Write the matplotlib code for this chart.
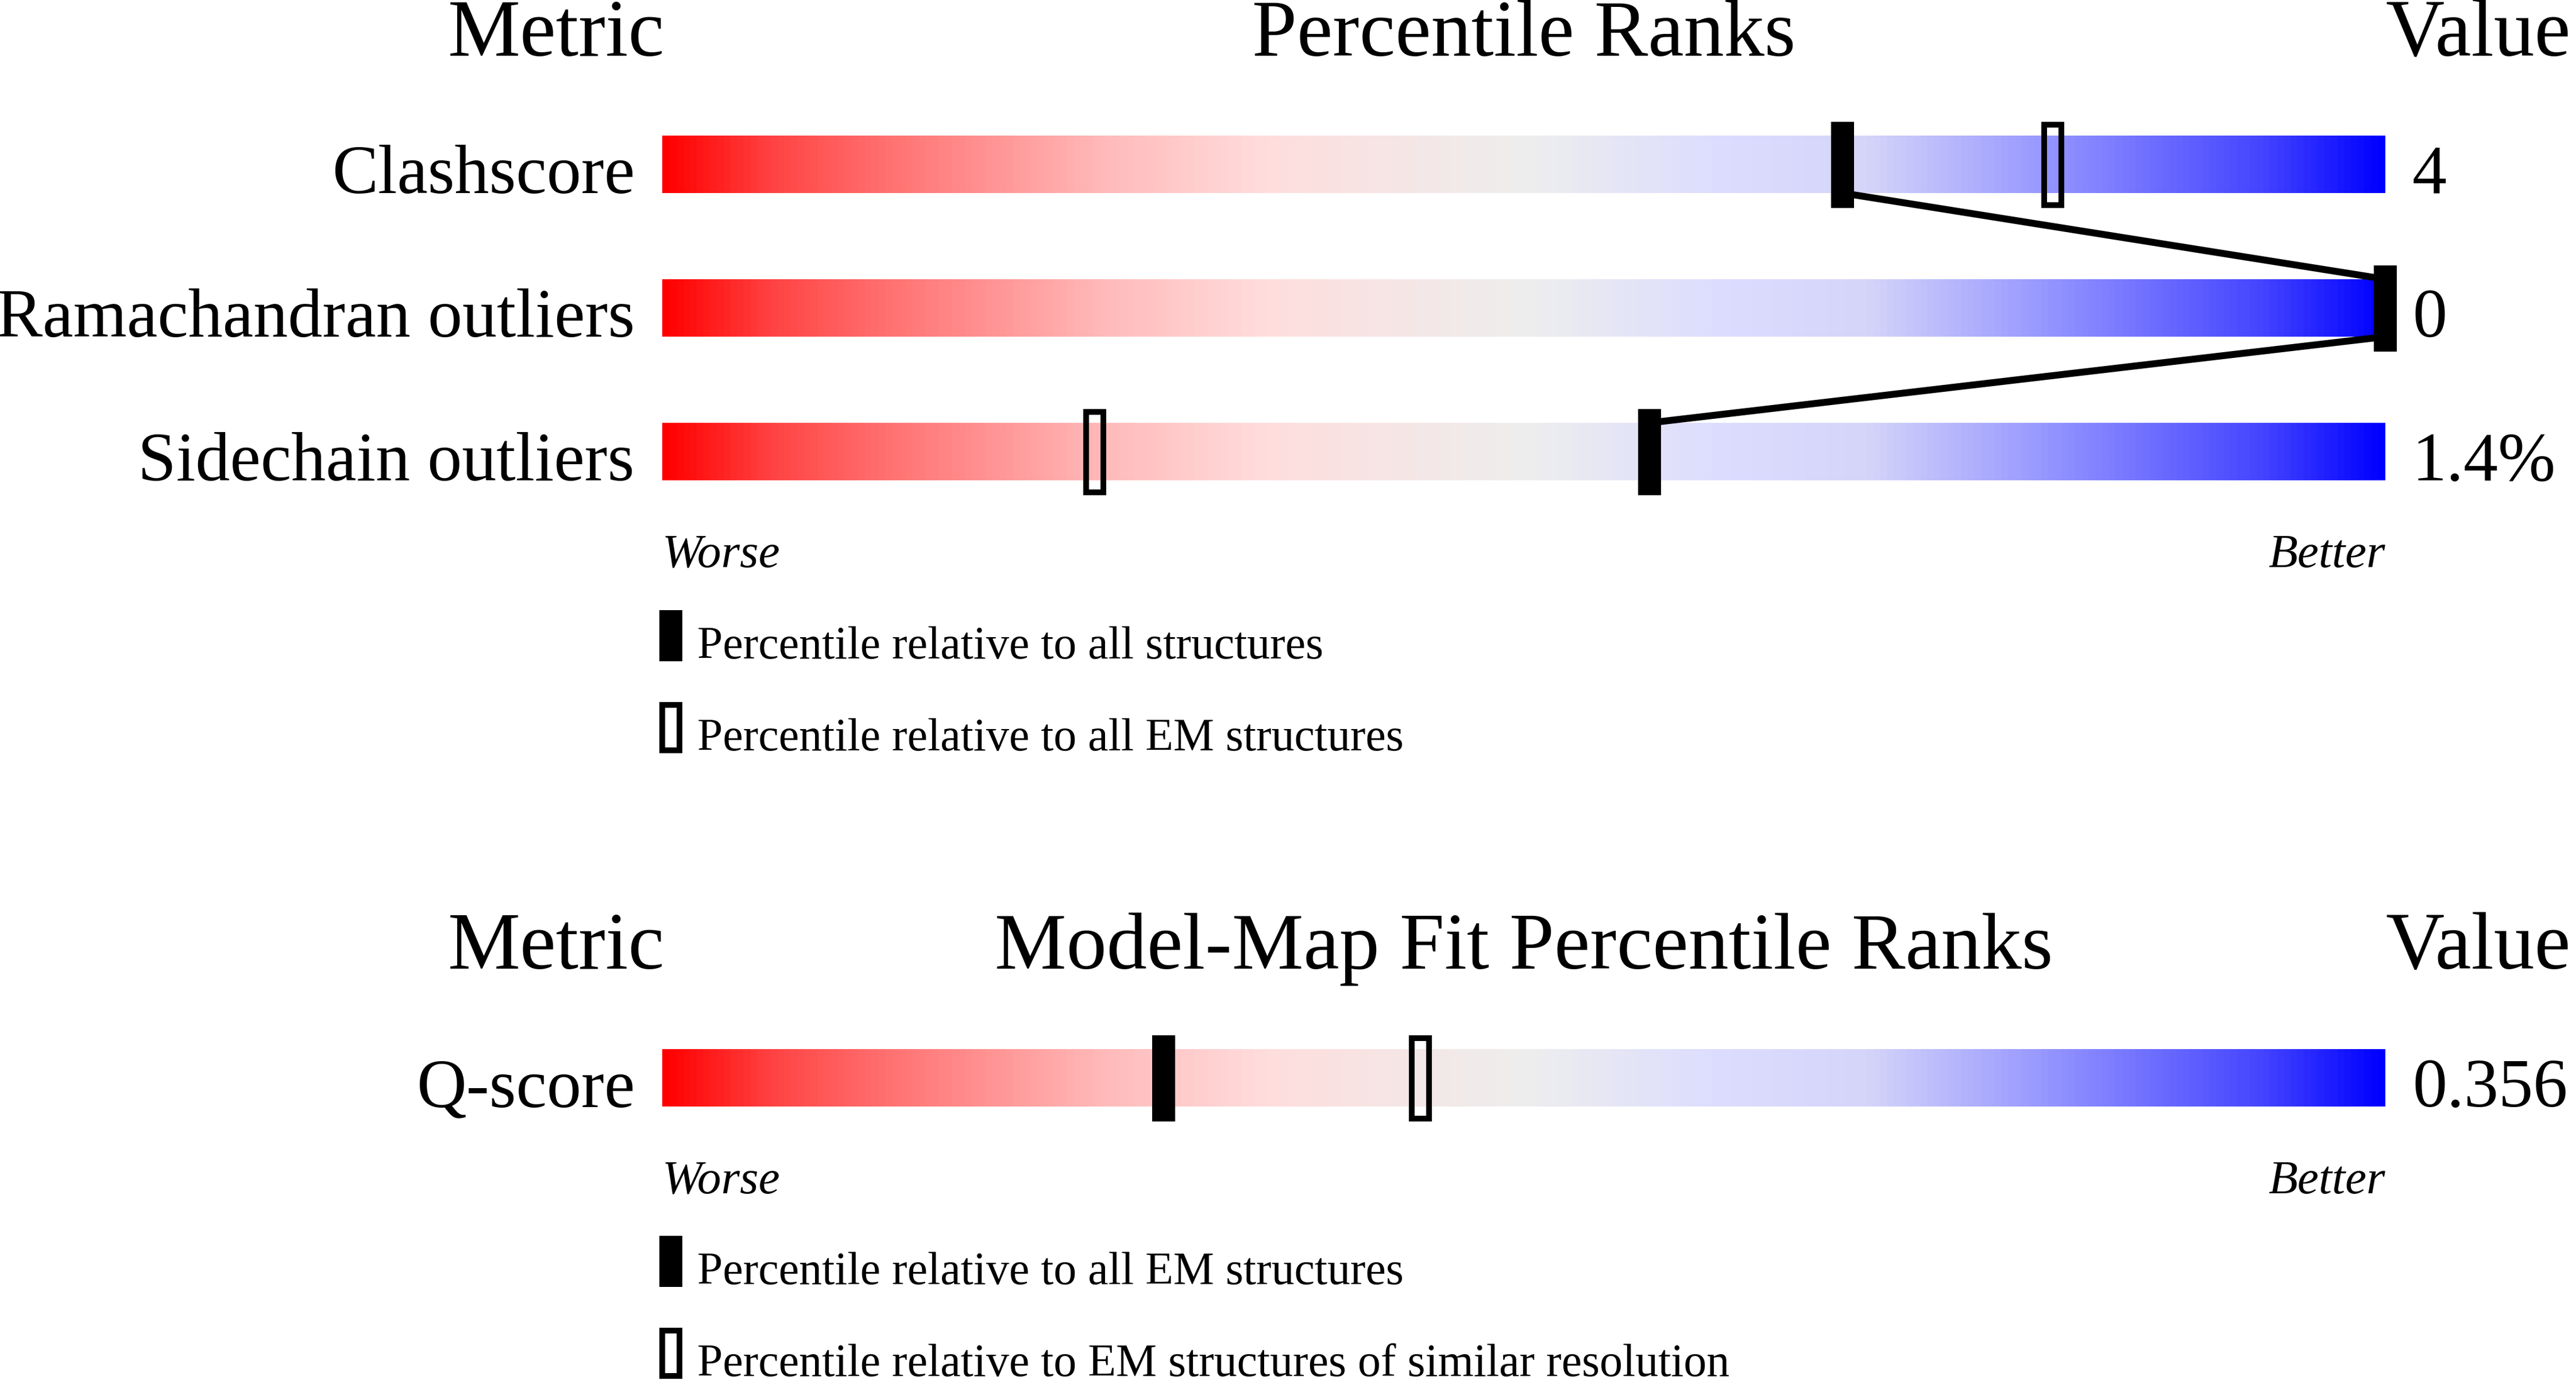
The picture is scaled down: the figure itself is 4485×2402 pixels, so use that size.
import numpy as np
import matplotlib
matplotlib.use("Agg")
import matplotlib.pyplot as plt
from matplotlib.colors import LinearSegmentedColormap
from matplotlib.patches import Rectangle

# ---------------- data ----------------
metrics_top = ["Clashscore", "Ramachandran outliers", "Sidechain outliers"]
values_top = ["4", "0", "1.4%"]
pct_all_top = [68.5, 100.0, 57.3]
pct_em_top = [80.7, 100.0, 25.1]
legend_top = ["Percentile relative to all structures",
              "Percentile relative to all EM structures"]

metrics_bot = ["Q-score"]
values_bot = ["0.356"]
pct_all_bot = [29.1]
pct_em_bot = [44.0]
legend_bot = ["Percentile relative to all EM structures",
              "Percentile relative to EM structures of similar resolution"]

headers_top = ["Metric", "Percentile Ranks", "Value"]
headers_bot = ["Metric", "Model-Map Fit Percentile Ranks", "Value"]
scale_ends = ["Worse", "Better"]

# ---------------- style / layout (pixels) ----------------
W, H = 4485, 2402
BAR_X0, BAR_X1 = 1153, 4153
PXU = (BAR_X1 - BAR_X0) / 100.0  # pixels per percentile unit
FONT = "Liberation Serif"

fig = plt.figure(figsize=(W / 100, H / 100), dpi=100)
ax = fig.add_axes([0, 0, 1, 1])
ax.set_xlim(-BAR_X0 / PXU, (W - BAR_X0) / PXU)
ax.set_ylim(H, 0)
ax.axis("off")

cmap = LinearSegmentedColormap.from_list("slider", [
    (0.00, (1.0, 0.0, 0.0)),
    (0.064, (1.0, 0.27, 0.27)),
    (0.128, (1.0, 0.44, 0.44)),
    (0.256, (1.0, 0.73, 0.73)),
    (0.35, (1.0, 0.867, 0.867)),
    (0.50, (0.933, 0.933, 0.933)),
    (0.61, (0.867, 0.867, 1.0)),
    (0.70, (0.835, 0.835, 0.98)),
    (0.80, (0.60, 0.60, 1.0)),
    (0.93, (0.27, 0.27, 1.0)),
    (1.00, (0.0, 0.0, 1.0)),
])
grad = np.linspace(0, 1, 1000).reshape(1, -1)

BAR_H = 100
MK_W = 40 / PXU
MK_UP, MK_DN = 24, 26
LW_BORDER = 10 * 0.72
LW_LINE = 12 * 0.72

def text(x_px, y, s, size, ha="left", style="normal"):
    ax.text((x_px - BAR_X0) / PXU, y, s, fontsize=size, ha=ha, va="baseline",
            family=FONT, style=style, color="black")

def panel(header_base, bar_tops, metrics, values, p_all, p_em, headers,
          ends_base, leg_tops, leg_texts):
    text(969, header_base, headers[0], 102, ha="center")
    text((BAR_X0 + BAR_X1) / 2, header_base, headers[1], 101, ha="center")
    text(BAR_X1, header_base, headers[2], 102, ha="left")
    pts = []
    for top, m, v, pa in zip(bar_tops, metrics, values, p_all):
        ax.imshow(grad, cmap=cmap, aspect="auto", interpolation="bilinear",
                  extent=(0, 100, top + BAR_H, top), zorder=1)
        text(1105, top + BAR_H, m, 86.5, ha="right")
        text(4200, top + BAR_H, v, 86.5, ha="left")
        pts.append((pa, top))
    # connecting line between "all" markers
    for (pa, ta), (pb, tb) in zip(pts[:-1], pts[1:]):
        ax.plot([pa, pb], [ta + BAR_H, tb], color="black", lw=LW_LINE,
                solid_capstyle="butt", zorder=2)
    for top, pe in zip(bar_tops, p_em):
        if pe is None:
            continue
        bw = MK_W - 10 / PXU
        ax.add_patch(Rectangle((pe - bw / 2, top - MK_UP + 5), bw,
                               BAR_H + MK_UP + MK_DN - 10, fill=False,
                               edgecolor="black", lw=LW_BORDER, zorder=3))
    for top, pa in zip(bar_tops, p_all):
        ax.add_patch(Rectangle((pa - MK_W / 2, top - MK_UP), MK_W,
                               BAR_H + MK_UP + MK_DN, facecolor="black",
                               edgecolor="none", zorder=4))
    text(BAR_X0, ends_base, scale_ends[0], 60, ha="left", style="italic")
    text(BAR_X1, ends_base, scale_ends[1], 60, ha="right", style="italic")
    # legend
    lx = (1168 - BAR_X0) / PXU
    t0, t1 = leg_tops
    ax.add_patch(Rectangle((lx - MK_W / 2, t0), MK_W, 89, facecolor="black",
                           edgecolor="none", zorder=4))
    bw = MK_W - 10 / PXU
    ax.add_patch(Rectangle((lx - bw / 2, t1 + 5), bw, 79, fill=False,
                           edgecolor="black", lw=LW_BORDER, zorder=4))
    text(1214, t0 + 84, leg_texts[0], 57.5, ha="left")
    text(1214, t1 + 84, leg_texts[1], 57.5, ha="left")

panel(97, [236, 486, 736], metrics_top, values_top, pct_all_top, pct_em_top,
      headers_top, 987, (1062, 1222), legend_top)
panel(1686, [1826], metrics_bot, values_bot, pct_all_bot, pct_em_bot,
      headers_bot, 2077, (2151, 2311), legend_bot)

fig.savefig("out.png", dpi=100, facecolor="white")
